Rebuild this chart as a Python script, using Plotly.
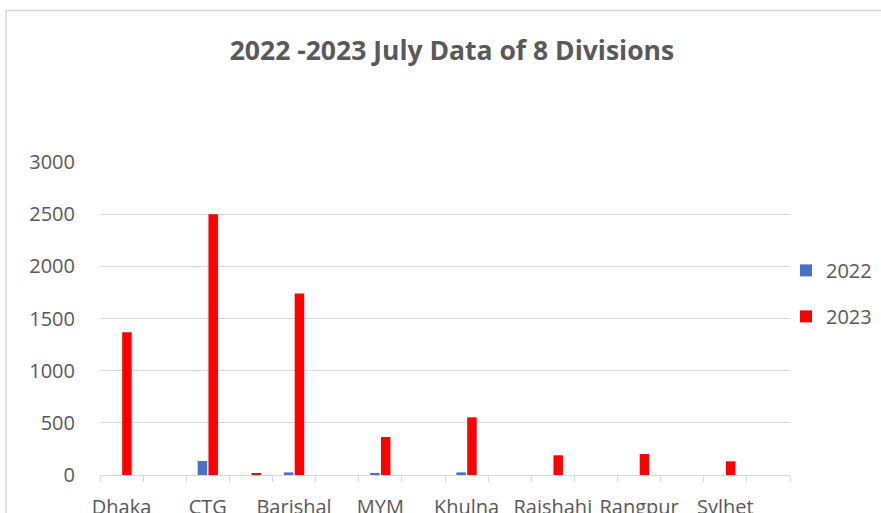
import plotly.graph_objects as go

# 16 category slots (Excel shows a label on every other slot)
slot_labels = ["Dhaka", "", "CTG", "", "Barishal", "", "MYM", "",
               "Khulna", "", "Rajshahi", "", "Rangpur", "", "Sylhet", ""]
values_2022 = [0, 0, 134, 0, 25, 0, 15, 0, 25, 0, 0, 0, 0, 0, 0, 0]
values_2023 = [1370, 0, 2500, 10, 1740, 0, 364, 0, 553, 0, 189, 0, 201, 0, 131, 0]
series_names = ["2022", "2023"]
series_colors = ["#4472C4", "#FF0000"]
y_ticks = [0, 500, 1000, 1500, 2000, 2500, 3000]

x_pos = list(range(len(slot_labels)))
tick_vals = [i for i, s in enumerate(slot_labels) if s]
tick_text = [s for s in slot_labels if s]

fig = go.Figure()
for name, vals, col in zip(series_names, [values_2022, values_2023], series_colors):
    fig.add_trace(go.Bar(x=x_pos, y=vals, name=name, marker_color=col,
                         marker_line_width=0, legendgroup=name))

grid = "#d9d9d9"
txt = "#595959"
fig.update_layout(
    width=881, height=513,
    margin=dict(l=100, r=91, t=162, b=38, autoexpand=False),
    paper_bgcolor="white", plot_bgcolor="white",
    font=dict(family="Open Sans", color=txt, size=20),
    barmode="group", bargap=0.5, bargroupgap=0.12,
    title=dict(text="2022 -2023 July Data of 8 Divisions",
               x=0.513, xanchor="center", y=0.902, yanchor="middle",
               font=dict(family="Open Sans", size=26.5, color=txt, weight=700)),
    showlegend=True,
    legend=dict(x=(786 - 100) / 690, xanchor="left", y=0.716, yanchor="top",
                font=dict(size=20, color=txt), tracegroupgap=17,
                traceorder="grouped", bgcolor="rgba(0,0,0,0)"),
    xaxis=dict(range=[-0.5, len(slot_labels) - 0.5], tickvals=tick_vals,
               ticktext=tick_text, ticks="", showgrid=False, zeroline=False,
               showline=True, linecolor=grid, linewidth=1, automargin=False,
               ticklabelstandoff=14, tickfont=dict(size=20, color=txt),
               minor=dict(tick0=-0.5, dtick=1, ticks="outside", ticklen=6,
                          tickcolor=grid, tickwidth=1, showgrid=False)),
    yaxis=dict(range=[0, 3002], tickvals=y_ticks, showgrid=True, gridcolor=grid,
               gridwidth=1, zeroline=False, showline=False, ticks="",
               automargin=False,
               ticklabelstandoff=24, tickfont=dict(size=20, color=txt)),
    shapes=[dict(type="rect", xref="paper", yref="paper",
                 x0=(6 - 100) / 690, x1=1.5, y0=-0.3, y1=(475 - 10.5) / 313,
                 line=dict(color=grid, width=1.5), layer="below")],
)

fig.write_html("out.html", config={"displayModeBar": False},
               post_script="document.body.style.margin='0px';")
